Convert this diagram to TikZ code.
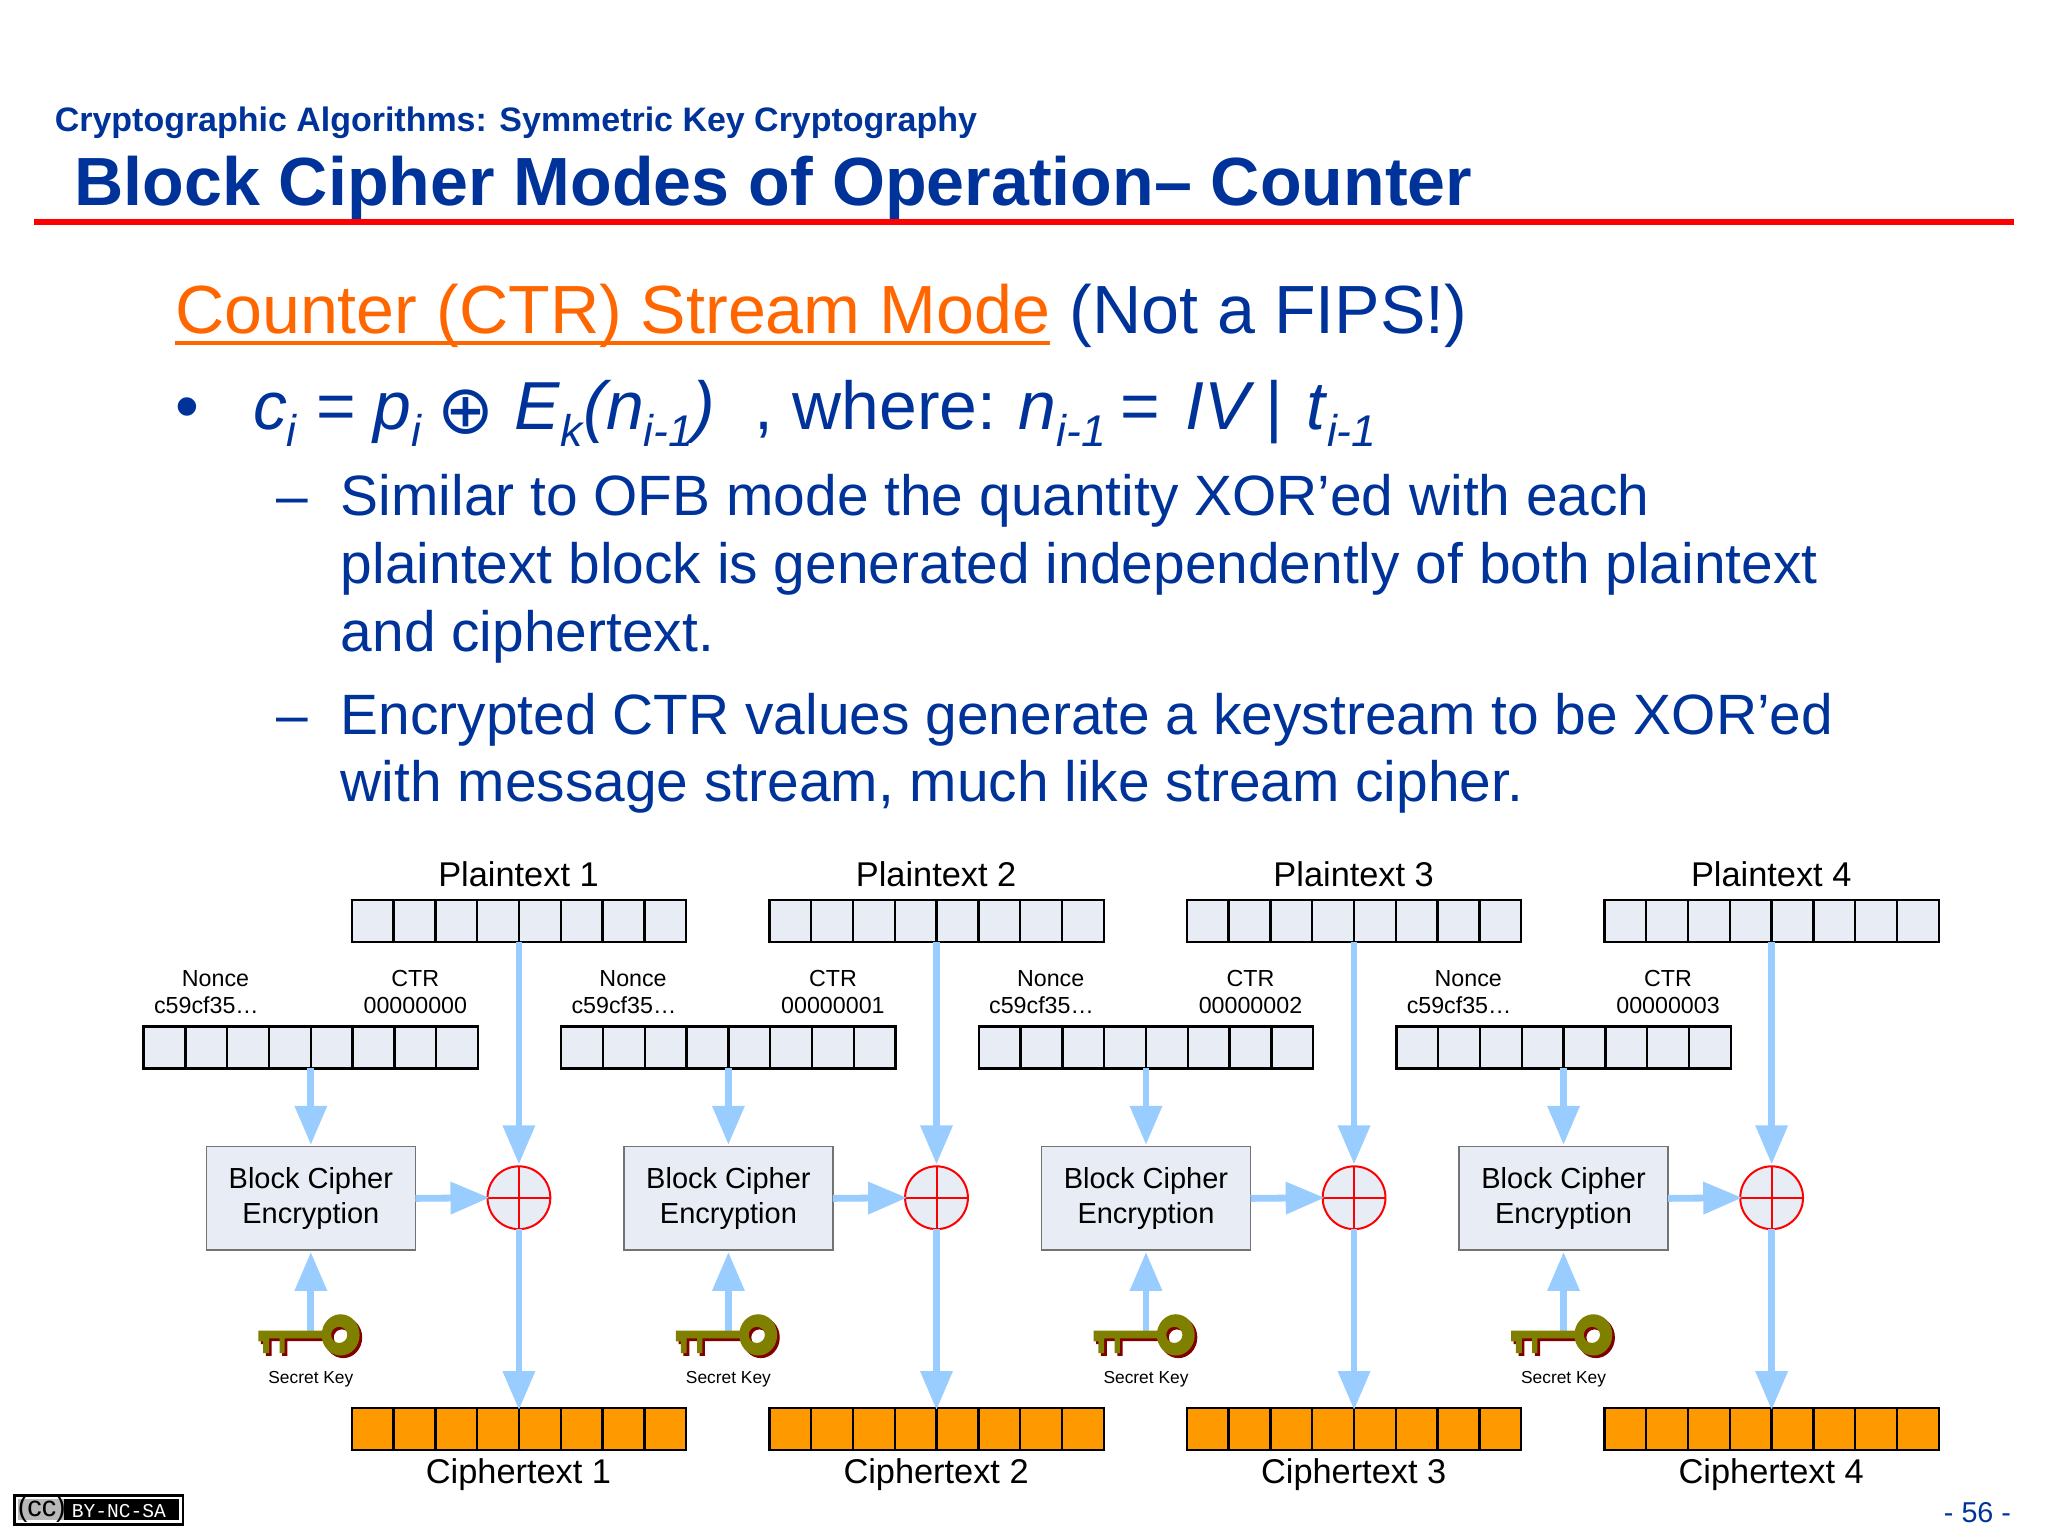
\documentclass[tikz,border=0pt]{standalone}
\usepackage{fontspec}
\setmainfont{Liberation Sans}
\setmonofont{Liberation Mono}
\newfontfamily\djv{DejaVu Sans}
\usetikzlibrary{arrows.meta,calc}
\definecolor{tblue}{HTML}{003399}
\definecolor{torange}{HTML}{FF6600}
\definecolor{cellfill}{HTML}{E8EDF5}
\definecolor{cipherfill}{HTML}{FF9900}
\definecolor{flow}{HTML}{99CCFF}
\definecolor{keyolive}{HTML}{808000}
\definecolor{keyred}{HTML}{800000}
\newcommand\fs[1]{\fontsize{\fpeval{#1*0.65306}pt}{\fpeval{#1*0.8}pt}\selectfont}
\tikzset{
  txt/.style={inner sep=0pt,outer sep=0pt,anchor=base west,text=tblue},
  dia/.style={inner sep=0pt,outer sep=0pt,anchor=base,text=black},
  cellbar/.style={draw=black,line width=1.2pt,minimum width=167.2pt,minimum height=20.9pt,inner sep=0pt,outer sep=0pt},
  sepline/.style={draw=black,line width=1.2pt},
  blockbox/.style={draw=black!55,line width=0.6pt,fill=cellfill,minimum width=104.5pt,minimum height=51.6pt,inner sep=0pt,outer sep=0pt,align=center,text=black},
  xorc/.style={circle,draw=red,line width=1pt,fill=cellfill,minimum size=31.4pt,inner sep=0pt,outer sep=0pt},
  flowarrow/.style={draw=flow,line width=3.4pt,-{Triangle[length=19.5pt,width=15.5pt]}}
}
\begin{document}
\begin{tikzpicture}[x=0.65306pt,y=-0.65306pt]
\useasboundingbox (0,0) rectangle (1568,1176);
% Header
\node[txt] (sub) at (42,101) {\fs{26}\bfseries Cryptographic Algorithms: Symmetric Key Cryptography};
\node[txt] (title) at (57,157) {\fs{52.2}\bfseries Block Cipher Modes of Operation– Counter};
\fill[red] (26,167.5) rectangle (1542,172.5);
% Heading
\node[txt,text=torange] (ctr) at (134,255) {\fs{52.2}Counter (CTR) Stream Mode};
\node[txt] (fips) at (819,255) {\fs{52.2}(Not a FIPS!)};
\draw[torange,line width=1.7pt] ([yshift=-5pt]ctr.base west) -- ([yshift=-5pt]ctr.base east);
% Formula line
\node[txt] (bul) at (134,329) {\fs{52}•};
\node[txt] (f1) at (194,329) {\fs{52}\itshape c};
\node[txt] (f1s) at (219,342) {\fs{34}\itshape i};
\node[txt] (f2) at (242,329) {\fs{52}=};
\node[txt] (f3) at (286,329) {\fs{52}\itshape p};
\node[txt] (f3s) at (315,342) {\fs{34}\itshape i};
\node[txt] (f4) at (335,332) {\fs{52}\djv ⊕};
\node[txt] (f5) at (394,329) {\fs{52}\itshape E};
\node[txt] (f5s) at (429,342) {\fs{34}\itshape k};
\node[txt] (f6) at (447,329) {\fs{52}\itshape (n};
\node[txt] (f6s) at (493,342) {\fs{34}\itshape i-1};
\node[txt] (f7) at (530,329) {\fs{52}\itshape )};
\node[txt] (f8) at (578,329) {\fs{52}, where:};
\node[txt] (f9) at (780,329) {\fs{52}\itshape n};
\node[txt] (f9s) at (809,342) {\fs{34}\itshape i-1};
\node[txt] (f10) at (858,329) {\fs{52}=};
\node[txt] (f11) at (908,329) {\fs{52}\itshape IV};
\node[txt] (f12) at (969,329) {\fs{52}|};
\node[txt] (f13) at (1000,329) {\fs{52}\itshape t};
\node[txt] (f13s) at (1016,342) {\fs{34}\itshape i-1};
% Sub-bullets
\node[txt] (d1) at (212,395) {\fs{43.55}–};
\node[txt] (l1) at (261,395) {\fs{43.55}Similar to OFB mode the quantity XOR’ed with each};
\node[txt] (l2) at (261,447) {\fs{43.55}plaintext block is generated independently of both plaintext};
\node[txt] (l3) at (261,499) {\fs{43.55}and ciphertext.};
\node[txt] (d2) at (212,562) {\fs{43.55}–};
\node[txt] (l4) at (261,562) {\fs{43.55}Encrypted CTR values generate a keystream to be XOR’ed};
\node[txt] (l5) at (261,614) {\fs{43.55}with message stream, much like stream cipher.};
% Diagram
\foreach \i [evaluate=\i as \dx using (\i-1)*319.7, evaluate=\i as \cn using int(\i-1)] in {1,...,4} {
\begin{scope}[shift={(\dx,0)}]
  \node[dia] (pl\i) at (397,679) {\fs{26.3}Plaintext \i};
  \node[cellbar,fill=cellfill] (p\i) at (397.3,705) {};
  \node[dia] (nl\i) at (165,755) {\fs{17.8}Nonce};
  \node[dia] (nv\i) at (158,776) {\fs{17.8}c59cf35…};
  \node[dia] (tl\i) at (318,755) {\fs{17.8}CTR};
  \node[dia] (tv\i) at (318,776) {\fs{17.8}0000000\cn};
  \node[cellbar,fill=cellfill] (n\i) at (238,802) {};
  \node[blockbox] (b\i) at (238,917.5) {\fs{22.2}Block Cipher\\[3.2pt]\fs{22.2}Encryption};
  \node[xorc] (x\i) at (397.3,917) {};
  \node[cellbar,fill=cipherfill] (c\i) at (397.3,1094) {};
  \node[dia] (cl\i) at (397,1136) {\fs{26.3}Ciphertext \i};
  \node[dia] (sk\i) at (238,1059) {\fs{13.3}Secret Key};
  \coordinate (k\i) at (238,1020);
  \foreach \k in {1,...,7} {
    \draw[sepline] (269.3+32*\k,689) -- ++(0,32);
    \draw[sepline] (110+32*\k,786) -- ++(0,32);
    \draw[sepline] (269.3+32*\k,1078) -- ++(0,32);
  }
  \draw[red,line width=1pt] (x\i.north) -- (x\i.south) (x\i.west) -- (x\i.east);
  \draw[flowarrow] (n\i.south) -- ([yshift=1pt]b\i.north);
  \draw[flowarrow] (p\i.south) -- ([yshift=1pt]x\i.north);
  \draw[flowarrow] (b\i.east) -- ([xshift=1pt]x\i.west);
  \draw[flowarrow] (x\i.south) -- ([yshift=-1pt]c\i.north);
  \draw[flowarrow] (k\i) -- ([yshift=-1pt]b\i.south);
  % Key
  \begin{scope}[shift={(2,2)}]
    \fill[keyred,even odd rule] (260.8,1022) ellipse (14.5 and 15.8) (259.7,1022) circle (6.2);
    \fill[keyred] (197.8,1018.8) -- (250,1018.8) -- (250,1024.7) -- (218,1024.7) -- (218,1036) -- (214,1036) -- (214,1024.7) -- (206,1024.7) -- (206,1036) -- (201.5,1036) -- (201.5,1027) -- (197.8,1027) -- cycle;
  \end{scope}
  \fill[keyolive,even odd rule] (260.8,1022) ellipse (14.5 and 15.8) (259.7,1022) circle (6.2);
  \fill[keyolive] (197.8,1018.8) -- (250,1018.8) -- (250,1024.7) -- (218,1024.7) -- (218,1036) -- (214,1036) -- (214,1024.7) -- (206,1024.7) -- (206,1036) -- (201.5,1036) -- (201.5,1027) -- (197.8,1027) -- cycle;
\end{scope}
}
% CC badge
\fill[black] (10,1144) rectangle (141,1168);
\fill[white] (12,1146) rectangle (139,1166);
\fill[black] (14,1148) rectangle (137,1164);
\fill[black!28] (14,1148) rectangle (49,1164);
\node[inner sep=0pt,text=black] (cc) at (32,1155) {\fs{22}(cc)};
\node[inner sep=0pt,text=white] (ccby) at (91,1156.5) {\fs{15}\ttfamily BY-NC-SA};
% Page number
\node[inner sep=0pt,anchor=base east,text=tblue] (pg) at (1540,1166) {\fs{22}- 56 -};
\end{tikzpicture}
\end{document}
